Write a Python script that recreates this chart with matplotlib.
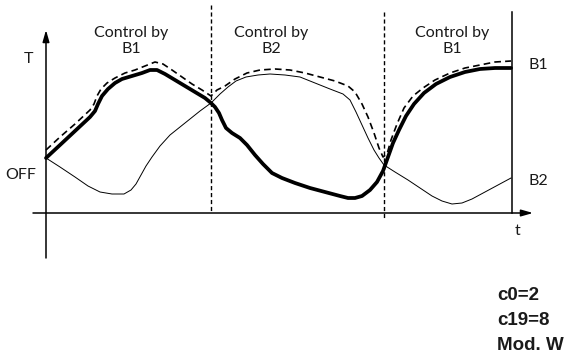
import matplotlib.pyplot as plt

# schematic curves, in picture units (x to the right, y downwards)
b1_x = [46, 60, 75, 90, 95, 98, 102, 108, 115, 122, 132, 142, 150, 157, 165, 175, 185, 195, 205, 211,
        215, 219, 222, 226, 232, 240, 247, 255, 263, 272, 282, 295, 310, 325, 340, 348, 355, 362, 370,
        377, 383, 388, 393, 399, 406, 414, 424, 436, 450, 465, 480, 495, 505, 511]
b1_y = [158, 145, 131, 117, 111, 104, 96, 89, 83, 79, 76, 73, 70, 70, 74, 80, 86, 92, 98, 103,
        107, 113, 120, 128, 133, 138, 145, 155, 164, 173, 178, 183, 188, 192, 196, 198, 198, 196, 190,
        182, 171, 157, 143, 130, 116, 104, 93, 84, 77, 72, 69, 68, 68, 68]

ctl_x = [46, 60, 75, 90, 94, 97, 101, 107, 115, 125, 135, 145, 155, 163, 172, 182, 192, 202, 211,
         217, 225, 235, 247, 260, 275, 290, 305, 320, 335, 348, 355, 362, 368, 374, 379, 383, 387,
         391, 397, 404, 413, 423, 435, 450, 465, 480, 495, 511]
ctl_y = [150, 137, 124, 110, 104, 96, 89, 83, 78, 73, 70, 66, 62, 64, 70, 77, 84, 90, 96,
         90, 86, 79, 73, 70, 69, 70, 73, 77, 81, 86, 92, 104, 117, 133, 148, 157, 154,
         140, 124, 108, 96, 88, 80, 73, 68, 65, 62, 61]

b2_x = [46, 60, 75, 88, 100, 112, 124, 131, 136, 141, 146, 152, 160, 170, 180, 190, 200, 211, 220,
        228, 236, 246, 258, 270, 285, 300, 315, 330, 343, 350, 356, 362, 368, 374, 379, 384, 395,
        408, 420, 432, 442, 452, 462, 472, 485, 498, 511]
b2_y = [158, 167, 177, 186, 192, 194, 194, 190, 184, 175, 166, 157, 146, 135, 127, 119, 111, 103, 94,
        87, 81, 77, 75, 74, 75, 77, 83, 89, 94, 100, 112, 125, 138, 150, 158, 165, 172,
        180, 188, 196, 201, 204, 203, 199, 192, 185, 178]

switch_x = [211, 384]
zone_x = [131, 271, 452]
zone_names = ["Control by\nB1", "Control by\nB2", "Control by\nB1"]
params = ["c0=2", "c19=8", "Mod. W"]

fig = plt.figure(figsize=(5.7, 3.61), dpi=100)
ax = fig.add_axes([0, 0, 1, 1])
ax.set_xlim(0, 570)
ax.set_ylim(361, 0)
ax.axis("off")

lbl = dict(family=["Lato", "DejaVu Sans"], fontsize=11.5, color="#1a1a1a")

# axes of the sketch
ax.annotate("", xy=(46, 30), xytext=(46, 258),
            arrowprops=dict(arrowstyle="-|>,head_length=0.7,head_width=0.2", lw=1.1, color="black",
                            shrinkA=0, shrinkB=0))
ax.annotate("", xy=(533, 213), xytext=(33, 213),
            arrowprops=dict(arrowstyle="-|>,head_length=0.7,head_width=0.2", lw=1.1, color="black",
                            shrinkA=0, shrinkB=0))
ax.plot([512, 512], [12, 213], color="black", lw=1.1)

ax.plot([switch_x[0]] * 2, [5, 213], color="black", lw=1, ls=(0, (3, 2)))
ax.plot([switch_x[1]] * 2, [12, 218], color="black", lw=1, ls=(0, (3, 2)))

ax.plot(b2_x, b2_y, color="black", lw=0.7)
ax.plot(ctl_x, ctl_y, color="black", lw=1.2, ls=(0, (4, 2.5)))
ax.plot(b1_x, b1_y, color="black", lw=2.7, solid_joinstyle="round", solid_capstyle="round")

for x, name in zip(zone_x, zone_names):
    ax.text(x, 41, name, ha="center", va="center", linespacing=1.25, **lbl)

ax.text(29, 59, "T", ha="center", va="center", **lbl)
ax.text(21, 175, "OFF", ha="center", va="center", **lbl)
ax.text(528, 65, "B1", ha="left", va="center", **lbl)
ax.text(528, 181, "B2", ha="left", va="center", **lbl)
ax.text(518, 231, "t", ha="center", va="center", **lbl)

for i, p in enumerate(params):
    ax.text(497, 295 + 25.5 * i, p, ha="left", va="center", fontsize=13.5, fontweight="bold",
            family=["Liberation Sans Narrow", "Liberation Sans", "DejaVu Sans"], color="#1a1a1a")

fig.savefig("out.png", dpi=100)
